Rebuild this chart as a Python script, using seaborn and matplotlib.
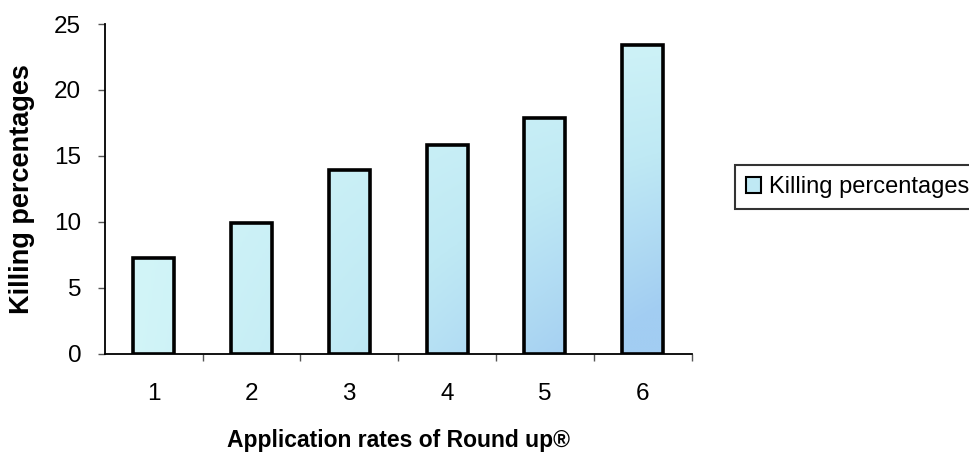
import numpy as np
import pandas as pd
import matplotlib
matplotlib.use("Agg")
import matplotlib.pyplot as plt
from matplotlib.colors import LinearSegmentedColormap
from matplotlib.patches import Patch
import seaborn as sns

# Killing percentages for each application rate of Round up
rates = ["1", "2", "3", "4", "5", "6"]
killing = [7.3, 9.9, 13.9, 15.8, 17.9, 23.4]
series_name = "Killing percentages"
y_ticks = [0, 5, 10, 15, 20, 25]

df = pd.DataFrame({"rate": rates, "killing": killing})

sns.set_theme(style="white")
plt.rcParams["font.family"] = ["Liberation Sans", "DejaVu Sans"]
plt.rcParams["text.color"] = "black"
plt.rcParams["axes.labelcolor"] = "black"
plt.rcParams["xtick.color"] = "black"
plt.rcParams["ytick.color"] = "black"

fig = plt.figure(figsize=(9.7, 4.62), dpi=100)
ax = fig.add_axes([0.108, 0.234, 0.605, 0.714])

sns.barplot(data=df, x="rate", y="killing", color="#c6eef6", width=0.42,
            edgecolor="black", linewidth=2.6, ax=ax, zorder=2)

ax.set_xlim(-0.5, len(rates) - 0.5)
ax.set_ylim(0, 25)

# soft cyan-to-blue shading inside the bars, deepening toward the lower right
cmap = LinearSegmentedColormap.from_list("shade", ["#d4f6f8", "#bfe9f4", "#a2cdf2"])
gx, gy = np.meshgrid(np.linspace(0, 1, 200), np.linspace(0, 1, 200))
grad = np.clip(1.1 * gx * gy + 0.1 * gx, 0, 1)
for bar in list(ax.patches):
    bar.set_facecolor("none")
    im = ax.imshow(grad, cmap=cmap, vmin=0, vmax=1, origin="upper",
                   extent=[-0.5, len(rates) - 0.5, 0, 25], aspect="auto",
                   interpolation="bilinear", zorder=1.5)
    im.set_clip_path(bar)
ax.set_xlim(-0.5, len(rates) - 0.5)
ax.set_ylim(0, 25)

# axes styling
for side in ["top", "right"]:
    ax.spines[side].set_visible(False)
for side in ["left", "bottom"]:
    ax.spines[side].set_color("black")
    ax.spines[side].set_linewidth(1.3)

ax.set_yticks(y_ticks)
ax.set_yticklabels([str(t) for t in y_ticks])
ax.tick_params(axis="y", direction="out", length=5, width=1, color="#555555",
               pad=12, labelsize=17.5, left=True)
ax.tick_params(axis="x", length=0, pad=21, labelsize=17.5)
ax.set_xticks(np.arange(0.5, len(rates) - 0.4, 1.0), minor=True)
ax.tick_params(axis="x", which="minor", direction="out", length=5, width=1,
               color="#555555", bottom=True)

ax.set_xlabel("Application rates of Round up®", fontsize=16.5, fontweight="bold",
              labelpad=17)
ax.set_ylabel(series_name, fontsize=19.5, fontweight="bold", labelpad=14)

handle = Patch(facecolor="#bfe9f4", edgecolor="black", linewidth=1.5)
leg = fig.legend([handle], [series_name], loc="center left",
                 bbox_to_anchor=(0.758, 0.595), fontsize=17, frameon=True,
                 fancybox=False, handlelength=0.65, handleheight=0.65,
                 handletextpad=0.35, borderpad=0.45, borderaxespad=0)
leg.get_frame().set_edgecolor("black")
leg.get_frame().set_linewidth(1.5)

fig.savefig("out.png", dpi=100, facecolor="white")
